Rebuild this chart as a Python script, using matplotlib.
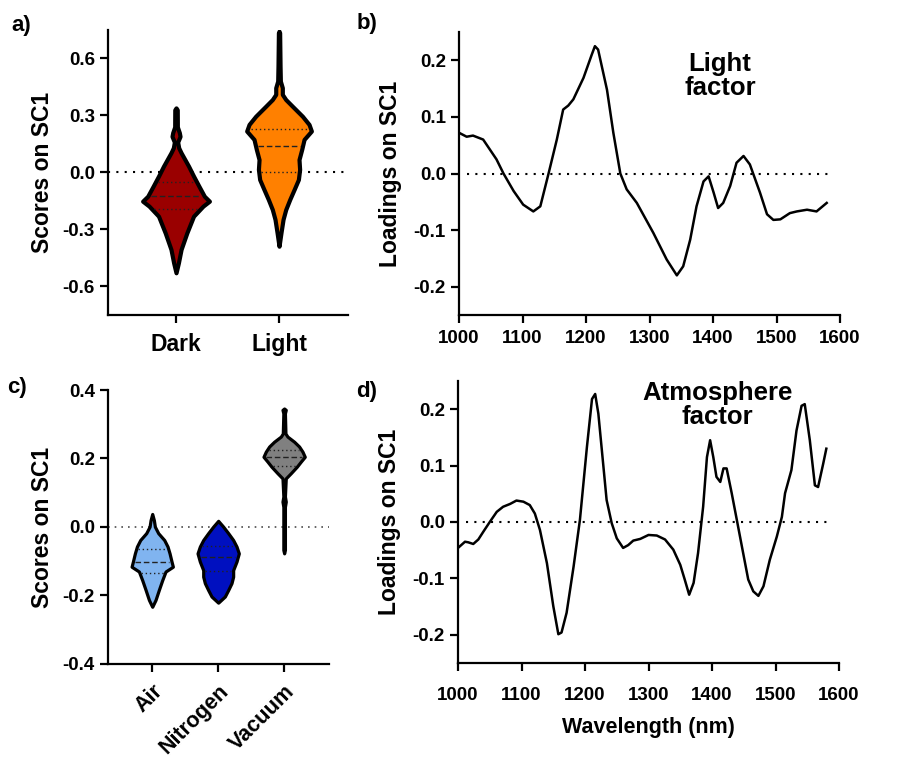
import matplotlib.pyplot as plt
import matplotlib as mpl
import numpy as np

mpl.rcParams['font.family'] = ['Liberation Sans', 'DejaVu Sans']
mpl.rcParams['font.weight'] = 'bold'

# ---- panel a: violin outlines (value, half width) ----
groups_a = ['Dark', 'Light']
colors_a = ['#9A0000', '#FF8000']
dark_y = [-0.528, -0.476, -0.405, -0.318, -0.23, -0.177, -0.151, -0.125, -0.072, -0.019,
          0.033, 0.104, 0.13, 0.16, 0.19, 0.21, 0.24, 0.33, 0.34]
dark_w = [0.0, 0.023, 0.049, 0.105, 0.17, 0.262, 0.324, 0.275, 0.222, 0.17,
          0.122, 0.049, 0.026, 0.016, 0.039, 0.032, 0.013, 0.012, 0.0]
light_y = [-0.388, -0.317, -0.247, -0.195, -0.142, -0.09, -0.037, 0.016, 0.068, 0.121, 0.174,
           0.218, 0.253, 0.296, 0.349, 0.384, 0.411, 0.446, 0.481, 0.56, 0.735, 0.744]
light_w = [0.0, 0.019, 0.039, 0.065, 0.104, 0.146, 0.188, 0.2, 0.194, 0.22, 0.243,
           0.314, 0.291, 0.227, 0.129, 0.065, 0.032, 0.032, 0.013, 0.01, 0.006, 0.0]
quart_a = [[-0.19, -0.125, -0.05], [0.005, 0.14, 0.23]]

# ---- panel c ----
groups_c = ['Air', 'Nitrogen', 'Vacuum']
colors_c = ['#80B4F0', '#0010C0', '#808080']
air_y = [-0.233, -0.213, -0.184, -0.155, -0.13, -0.116, -0.101, -0.077, -0.057, -0.038,
         -0.018, 0.001, 0.02, 0.038]
air_w = [0.0, 0.05, 0.1, 0.152, 0.202, 0.313, 0.293, 0.263, 0.232, 0.182,
         0.091, 0.04, 0.025, 0.0]
nit_y = [-0.221, -0.203, -0.184, -0.164, -0.145, -0.126, -0.101, -0.077, -0.057, -0.038,
         -0.018, 0.001, 0.018]
nit_w = [0.0, 0.101, 0.152, 0.202, 0.227, 0.227, 0.278, 0.313, 0.278, 0.227,
         0.152, 0.076, 0.0]
vac_y = [-0.077, -0.067, 0.059, 0.074, 0.089, 0.142, 0.157, 0.176, 0.191, 0.205,
         0.22, 0.235, 0.249, 0.264, 0.273, 0.332, 0.342, 0.346]
vac_w = [0.0, 0.012, 0.012, 0.025, 0.012, 0.025, 0.101, 0.192, 0.253, 0.313,
         0.278, 0.227, 0.152, 0.05, 0.02, 0.012, 0.025, 0.0]
quart_c = [[-0.133, -0.101, -0.065], [-0.128, -0.087, -0.055], [0.178, 0.203, 0.225]]

# ---- panel b: light factor loadings ----
wl_b = [1000, 1012, 1022, 1038, 1059, 1070, 1086, 1101, 1117, 1128, 1141, 1154, 1164, 1172,
        1180, 1196, 1209, 1214, 1219, 1233, 1243, 1254, 1264, 1280, 1306, 1327, 1343, 1353,
        1364, 1374, 1385, 1393, 1401, 1408, 1416, 1427, 1437, 1448, 1458, 1474, 1485, 1495,
        1506, 1521, 1532, 1548, 1563, 1579]
load_b = [0.072, 0.065, 0.067, 0.06, 0.025, 0.0, -0.031, -0.055, -0.067, -0.058, 0.0, 0.06,
          0.113, 0.12, 0.131, 0.169, 0.21, 0.225, 0.219, 0.148, 0.072, 0.0, -0.028, -0.052,
          -0.105, -0.152, -0.18, -0.164, -0.117, -0.058, -0.014, -0.005, -0.034, -0.061,
          -0.052, -0.022, 0.019, 0.031, 0.016, -0.034, -0.072, -0.082, -0.081, -0.07,
          -0.067, -0.064, -0.067, -0.052]

# ---- panel d: atmosphere factor loadings ----
wl_d = [1000, 1011, 1016, 1024, 1032, 1040, 1050, 1061, 1071, 1082, 1092, 1103, 1113, 1121,
        1129, 1140, 1150, 1158, 1163, 1171, 1182, 1192, 1203, 1211, 1216, 1221, 1229, 1234,
        1242, 1250, 1260, 1268, 1276, 1287, 1300, 1313, 1326, 1339, 1350, 1357, 1364, 1371,
        1378, 1386, 1392, 1397, 1402, 1407, 1413, 1418, 1423, 1431, 1439, 1449, 1457, 1465,
        1473, 1481, 1491, 1502, 1510, 1515, 1525, 1533, 1541, 1546, 1554, 1562, 1567, 1575,
        1580]
load_d = [-0.046, -0.035, -0.036, -0.039, -0.031, -0.017, 0.0, 0.018, 0.027, 0.032, 0.038,
          0.036, 0.03, 0.015, -0.014, -0.073, -0.149, -0.199, -0.196, -0.161, -0.079, 0.004,
          0.133, 0.218, 0.227, 0.192, 0.098, 0.039, -0.002, -0.029, -0.046, -0.041, -0.033,
          -0.03, -0.023, -0.024, -0.031, -0.049, -0.076, -0.102, -0.129, -0.108, -0.055,
          0.027, 0.115, 0.145, 0.115, 0.08, 0.071, 0.095, 0.095, 0.051, 0.004, -0.055,
          -0.102, -0.123, -0.131, -0.114, -0.067, -0.026, 0.009, 0.051, 0.092, 0.162, 0.206,
          0.209, 0.145, 0.065, 0.062, 0.103, 0.13]


def style_axis(ax, xpad=4):
    for s in ['top', 'right']:
        ax.spines[s].set_visible(False)
    for s in ['left', 'bottom']:
        ax.spines[s].set_linewidth(1.6)
    ax.tick_params(width=1.6, length=6, labelsize=13.5)
    ax.tick_params(axis='x', pad=xpad)
    for lab in ax.get_xticklabels() + ax.get_yticklabels():
        lab.set_fontweight('bold')


def draw_violin(ax, pos, ys, ws, color, quarts, lw):
    ys = np.array(ys)
    ws = np.array(ws)
    ax.fill_betweenx(ys, pos - ws, pos + ws, facecolor=color, edgecolor='black',
                     linewidth=lw, joinstyle='round', capstyle='round', zorder=3)
    for i, q in enumerate(quarts):
        w = np.interp(q, ys, ws) * 0.88
        ls = (0, (4, 2)) if i == 1 else (0, (1, 2))
        ax.plot([pos - w, pos + w], [q, q], color='#222222', linestyle=ls, lw=1.0, zorder=4)


fig = plt.figure(figsize=(9.21, 7.57), dpi=100)

# a)
ax1 = fig.add_axes([0.1173, 0.5839, 0.2606, 0.3765])
ax1.axhline(0, color='black', linestyle=(0, (1, 3)), lw=1.5, zorder=1)
draw_violin(ax1, 0, dark_y, dark_w, colors_a[0], quart_a[0], 3.0)
draw_violin(ax1, 1, light_y, light_w, colors_a[1], quart_a[1], 3.0)
ax1.set_xlim(-0.66, 1.67)
ax1.set_ylim(-0.75, 0.75)
ax1.set_yticks([-0.6, -0.3, 0.0, 0.3, 0.6])
ax1.set_yticklabels(['-0.6', '-0.3', '0.0', '0.3', '0.6'])
ax1.set_xticks([0, 1])
ax1.set_xticklabels(groups_a)
ax1.set_ylabel('Scores on SC1', fontsize=16.5, fontweight='bold', labelpad=6)
style_axis(ax1, xpad=7)
for lab in ax1.get_xticklabels():
    lab.set_fontsize(16.5)

# b)
ax2 = fig.add_axes([0.4984, 0.5839, 0.4137, 0.3738])
ax2.axhline(0, xmin=0.02, xmax=0.98, color='black', linestyle=(0, (1, 3)), lw=1.5)
ax2.plot(wl_b, load_b, color='black', lw=1.8)
ax2.set_xlim(1000, 1600)
ax2.set_ylim(-0.25, 0.25)
ax2.set_yticks([-0.2, -0.1, 0.0, 0.1, 0.2])
ax2.set_yticklabels(['-0.2', '-0.1', '0.0', '0.1', '0.2'])
ax2.set_xticks([1000, 1100, 1200, 1300, 1400, 1500, 1600])
ax2.set_ylabel('Loadings on SC1', fontsize=16.5, fontweight='bold', labelpad=8)
ax2.text(1411, 0.173, 'Light\nfactor', ha='center', va='center', fontsize=18.5,
         fontweight='bold', linespacing=1.0)
style_axis(ax2, xpad=5)

# c)
ax3 = fig.add_axes([0.1173, 0.1229, 0.2399, 0.3619])
ax3.axhline(0, color='black', linestyle=(0, (1, 3)), lw=1.2, alpha=0.7, zorder=1)
draw_violin(ax3, 0, air_y, air_w, colors_c[0], quart_c[0], 2.3)
draw_violin(ax3, 1, nit_y, nit_w, colors_c[1], quart_c[1], 2.3)
draw_violin(ax3, 2, vac_y, vac_w, colors_c[2], quart_c[2], 2.3)
ax3.set_xlim(-0.67, 2.68)
ax3.set_ylim(-0.4, 0.4)
ax3.set_yticks([-0.4, -0.2, 0.0, 0.2, 0.4])
ax3.set_yticklabels(['-0.4', '-0.2', '0.0', '0.2', '0.4'])
ax3.set_xticks([0, 1, 2])
ax3.set_xticklabels(groups_c, rotation=45, ha='right', rotation_mode='anchor')
ax3.set_ylabel('Scores on SC1', fontsize=16.5, fontweight='bold', labelpad=6)
style_axis(ax3, xpad=6)
for lab in ax3.get_xticklabels():
    lab.set_fontsize(15.5)

# d)
ax4 = fig.add_axes([0.4973, 0.1242, 0.4137, 0.3725])
ax4.axhline(0, xmin=0.02, xmax=0.98, color='black', linestyle=(0, (1, 3)), lw=1.5)
ax4.plot(wl_d, load_d, color='black', lw=1.8)
ax4.set_xlim(1000, 1600)
ax4.set_ylim(-0.25, 0.25)
ax4.set_yticks([-0.2, -0.1, 0.0, 0.1, 0.2])
ax4.set_yticklabels(['-0.2', '-0.1', '0.0', '0.1', '0.2'])
ax4.set_xticks([1000, 1100, 1200, 1300, 1400, 1500, 1600])
ax4.set_ylabel('Loadings on SC1', fontsize=16.5, fontweight='bold', labelpad=8)
ax4.set_xlabel('Wavelength (nm)', fontsize=15.5, fontweight='bold', labelpad=10)
ax4.text(1408, 0.207, 'Atmosphere\nfactor', ha='center', va='center', fontsize=18.5,
         fontweight='bold', linespacing=1.0)
style_axis(ax4, xpad=11)

fig.text(0.012, 0.98, 'a)', fontsize=16, fontweight='bold', va='top')
fig.text(0.387, 0.983, 'b)', fontsize=16, fontweight='bold', va='top')
fig.text(0.008, 0.502, 'c)', fontsize=16, fontweight='bold', va='top')
fig.text(0.387, 0.497, 'd)', fontsize=16, fontweight='bold', va='top')

fig.savefig('out.png', dpi=100)
